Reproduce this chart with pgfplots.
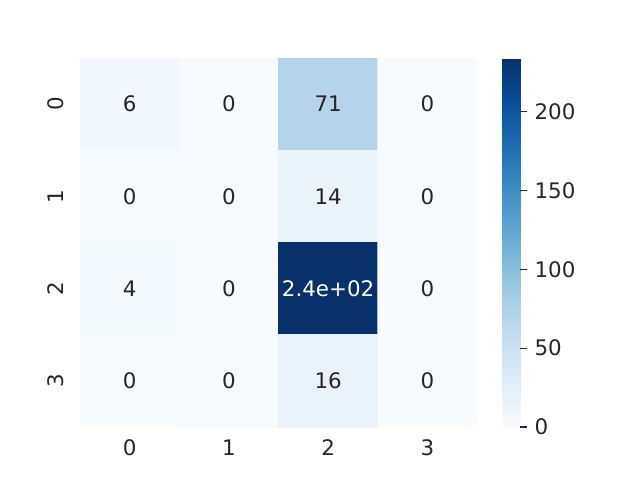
\documentclass[border=0pt]{standalone}
\usepackage{fontspec}
\setmainfont{DejaVu Sans}
\usepackage{pgfplots}
\pgfplotsset{compat=1.18}
\definecolor{txt}{RGB}{38,38,38}
\pgfplotsset{
  colormap={mplblues}{rgb255(0cm)=(247,251,255); rgb255(1cm)=(222,235,247); rgb255(2cm)=(198,219,239); rgb255(3cm)=(158,202,225); rgb255(4cm)=(107,174,214); rgb255(5cm)=(66,146,198); rgb255(6cm)=(33,113,181); rgb255(7cm)=(8,81,156); rgb255(8cm)=(8,48,107)}
}
\newcommand{\fs}{\fontsize{15.4}{18}\selectfont}
\begin{document}
\begin{tikzpicture}
\path[use as bounding box] (0,0) rectangle (460.8pt,345.6pt);
\begin{axis}[
  at={(57.6pt,38.16pt)}, anchor=south west,
  scale only axis, width=285.84pt, height=265.68pt,
  xmin=-0.5, xmax=3.5, ymin=-0.5, ymax=3.5,
  y dir=reverse,
  axis line style={draw=none},
  /pgf/number format/assume math mode=true,
  xtick={0,1,2,3}, xticklabels={0,1,2,3},
  ytick={0,1,2,3}, yticklabels={0,1,2,3},
  major tick length=0pt,
  xticklabel style={font=\fs, text=txt, anchor=base, inner sep=0pt, yshift=-20.7pt},
  yticklabel style={font=\fs, text=txt, rotate=90, anchor=base, inner sep=0pt, yshift=12pt},
  colormap name=mplblues,
  point meta min=0, point meta max=234,
  colorbar,
  colorbar style={
    at={(parent axis.north east)}, anchor=north west, xshift=9.8pt,
    scale only axis, width=12.96pt, height=265.68pt,
    axis line style={draw=none},
    ytick={0,50,100,150,200}, yticklabels={0,50,100,150,200},
    ytick pos=right, tick align=outside,
    major tick length=5pt,
    ytick style={draw=txt, line width=0.9pt},
    yticklabel style={font=\fs, text=txt, anchor=west, inner sep=0pt, xshift=5pt},
  },
]
\addplot[matrix plot*, mesh/cols=4, point meta=explicit, draw=none] table[meta=C] {
x y C
0 0 6
1 0 0
2 0 71
3 0 0
0 1 0
1 1 0
2 1 14
3 1 0
0 2 4
1 2 0
2 2 234
3 2 0
0 3 0
1 3 0
2 3 16
3 3 0
};
\addplot[only marks, mark=none, point meta=explicit symbolic,
  nodes near coords, nodes near coords align=center,
  every node near coord/.append style={font=\fs, text=txt, anchor=center}]
  table[meta=L] {
x y L
0 0 6
1 0 0
2 0 71
3 0 0
0 1 0
1 1 0
2 1 14
3 1 0
0 2 4
1 2 0
3 2 0
0 3 0
1 3 0
2 3 16
3 3 0
};
\addplot[only marks, mark=none, point meta=explicit symbolic,
  nodes near coords, nodes near coords align=center,
  every node near coord/.append style={font=\fs, text=white, anchor=center}]
  table[meta=L] {
x y L
2 2 2.4e+02
};
\end{axis}
\end{tikzpicture}
\end{document}
